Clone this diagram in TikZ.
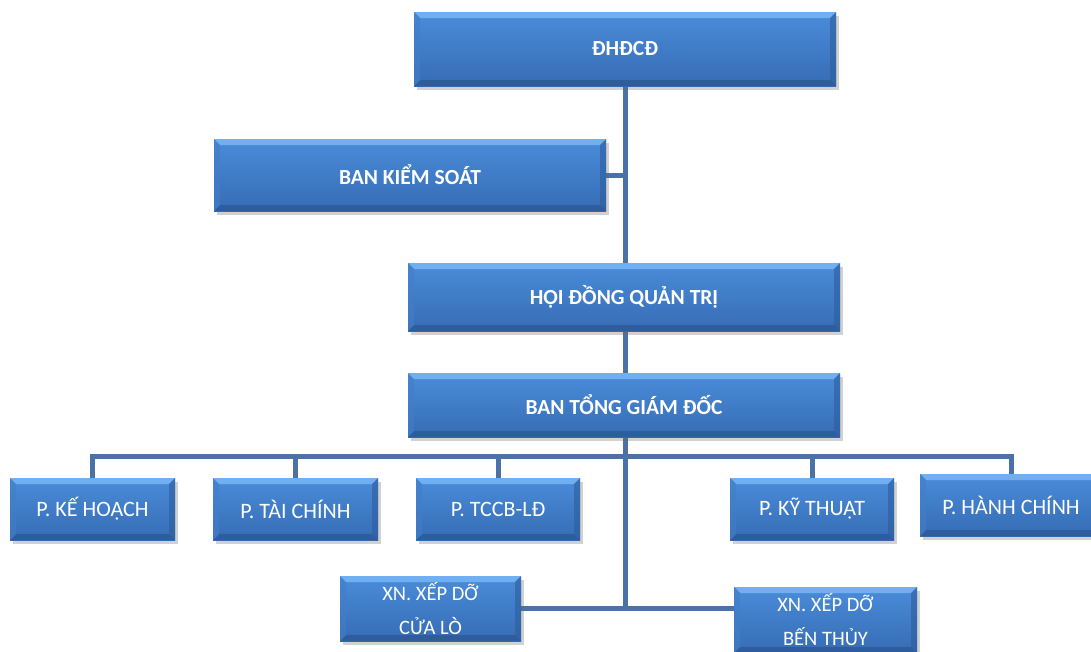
\documentclass[tikz,border=0pt]{standalone}
\usepackage{fontspec}
\setmainfont{Carlito}
\usetikzlibrary{shadows,backgrounds,calc}
\definecolor{linec}{RGB}{74,114,168}
\definecolor{boxtop}{RGB}{74,140,218}
\definecolor{boxbot}{RGB}{54,108,180}
\definecolor{bevtop}{RGB}{112,176,242}
\definecolor{bevbot}{RGB}{46,92,156}
\definecolor{bevside}{RGB}{66,126,200}
\tikzset{
  box/.style={draw=none, inner sep=0pt, text=white, align=center,
    top color=boxtop, bottom color=boxbot,
    drop shadow={shadow xshift=3pt, shadow yshift=-4pt, opacity=0.3, fill=black!60},
    path picture={
      \fill[bevtop] (path picture bounding box.north west) -- (path picture bounding box.north east)
        -- ([shift={(-6pt,-6pt)}]path picture bounding box.north east) -- ([shift={(6pt,-6pt)}]path picture bounding box.north west) -- cycle;
      \fill[bevbot] (path picture bounding box.south west) -- (path picture bounding box.south east)
        -- ([shift={(-6pt,6pt)}]path picture bounding box.south east) -- ([shift={(6pt,6pt)}]path picture bounding box.south west) -- cycle;
      \fill[bevside, opacity=0.6] (path picture bounding box.north west) -- ([shift={(6pt,-6pt)}]path picture bounding box.north west)
        -- ([shift={(6pt,6pt)}]path picture bounding box.south west) -- (path picture bounding box.south west) -- cycle;
      \fill[bevbot, opacity=0.6] (path picture bounding box.north east) -- ([shift={(-6pt,-6pt)}]path picture bounding box.north east)
        -- ([shift={(-6pt,6pt)}]path picture bounding box.south east) -- (path picture bounding box.south east) -- cycle;
    }},
  bigbox/.style={box, font=\fontsize{21.5}{26}\selectfont\bfseries},
  smallbox/.style={box, font=\fontsize{22}{34}\selectfont},
  xnbox/.style={box, font=\fontsize{20.5}{34}\selectfont},
  conn/.style={draw=linec, line width=5pt},
}
\begin{document}
\begin{tikzpicture}[x=1pt,y=-1pt]
\useasboundingbox (0,0) rectangle (1091,651);
\node[bigbox, minimum width=422pt, minimum height=74pt] (dh) at (625,49) {ĐHĐCĐ};
\node[bigbox, minimum width=392pt, minimum height=72pt] (bks) at (410,175) {BAN KIỂM SOÁT};
\node[bigbox, minimum width=432pt, minimum height=68pt] (hdqt) at (624,297) {HỘI ĐỒNG QUẢN TRỊ};
\node[bigbox, minimum width=432pt, minimum height=64pt] (btgd) at (624,405) {BAN TỔNG GIÁM ĐỐC};
\node[smallbox, minimum width=165pt, minimum height=62pt] (kh) at (92.5,509) {P. KẾ HOẠCH};
\node[smallbox, minimum width=165pt, minimum height=62pt] (tc) at (295.5,509) {P. TÀI CHÍNH};
\node[smallbox, minimum width=164pt, minimum height=62pt] (tccb) at (498,509) {P. TCCB-LĐ};
\node[smallbox, minimum width=164pt, minimum height=62pt] (kt) at (812,509) {P. KỸ THUẬT};
\node[smallbox, minimum width=182pt, minimum height=62pt] (hc) at (1011,505) {P. HÀNH CHÍNH};
\node[xnbox, minimum width=181pt, minimum height=65pt] (xn1) at (430.5,608.5) {XN. XẾP DỠ\\CỬA LÒ};
\node[xnbox, minimum width=183pt, minimum height=66pt] (xn2) at (825.5,620) {XN. XẾP DỠ\\BẾN THỦY};
\coordinate (bus) at (625,456);
\begin{scope}[on background layer]
\draw[conn] (dh.south) -- (dh.south |- xn1.east);
\draw[conn] (bks.east) -- (bks.east -| dh.south);
\draw[conn] (xn1.east) -- (xn1.east -| xn2.west);
\draw[conn] (kh.north) |- (bus) -| (hc.north);
\draw[conn] (tc.north) -- (tc.north |- bus);
\draw[conn] (tccb.north) -- (tccb.north |- bus);
\draw[conn] (kt.north) -- (kt.north |- bus);
\end{scope}
\end{tikzpicture}
\end{document}
